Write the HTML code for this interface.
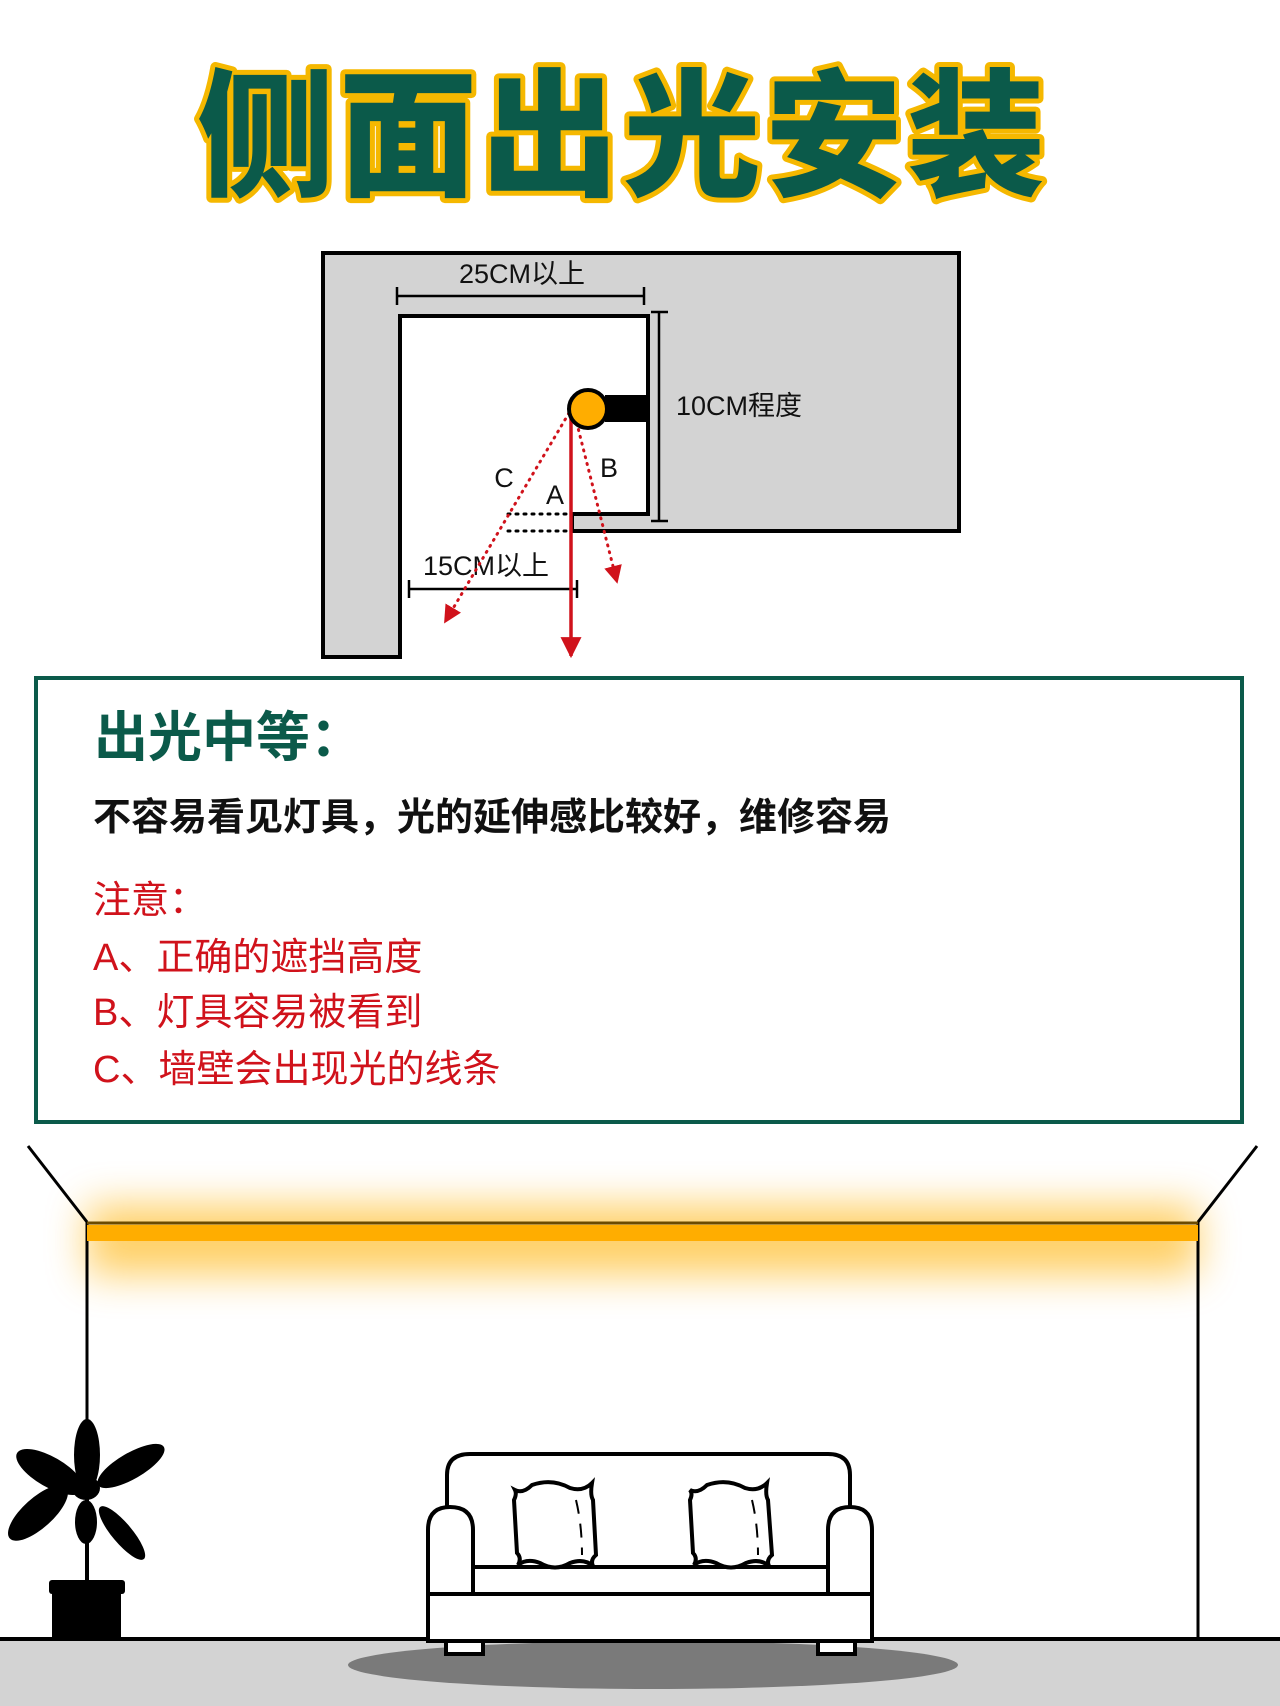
<!DOCTYPE html>
<html><head><meta charset="utf-8"><style>
html,body{margin:0;padding:0;background:#fff}
svg{display:block}
text{font-family:"Liberation Sans","Noto Sans CJK SC",sans-serif}
</style></head><body>
<svg width="1280" height="1706" viewBox="0 0 1280 1706" xmlns="http://www.w3.org/2000/svg">
<defs>
<filter id="blur" x="-20%" y="-200%" width="140%" height="500%"><feGaussianBlur stdDeviation="20"/></filter>
<marker id="ah" viewBox="0 0 10 10" refX="9" refY="5" markerWidth="6" markerHeight="6" orient="auto"><path d="M0,0 L10,5 L0,10 z" fill="#d0121b"/></marker>
</defs>
<rect width="1280" height="1706" fill="#fff"/>
<text x="623" y="125" text-anchor="middle" dominant-baseline="central" font-size="138" font-weight="900" letter-spacing="4" fill="#0b5a4a" stroke="#f5b800" stroke-width="10" stroke-linejoin="round" paint-order="stroke" style="font-family:'Noto Sans CJK SC',sans-serif">侧面出光安装</text>

<path d="M323,253 L959,253 L959,531 L572,531 L572,514 L648,514 L648,316 L400,316 L400,657 L323,657 Z" fill="#d3d3d3" stroke="#000" stroke-width="4"/>
<g stroke="#000" stroke-width="2.5">
<line x1="397" y1="296" x2="644" y2="296"/><line x1="397" y1="287" x2="397" y2="305"/><line x1="644" y1="287" x2="644" y2="305"/>
<line x1="659" y1="312" x2="659" y2="521"/><line x1="651" y1="312" x2="668" y2="312"/><line x1="651" y1="521" x2="668" y2="521"/>
<line x1="409" y1="589" x2="577" y2="589"/><line x1="409" y1="580" x2="409" y2="598"/><line x1="577" y1="580" x2="577" y2="598"/>
</g>
<g font-size="27" fill="#111">
<text x="522" y="274" text-anchor="middle" dominant-baseline="central">25CM以上</text>
<text x="676" y="406" dominant-baseline="central">10CM程度</text>
<text x="486" y="566" text-anchor="middle" dominant-baseline="central">15CM以上</text>
<text x="504" y="478" text-anchor="middle" dominant-baseline="central">C</text>
<text x="555" y="495" text-anchor="middle" dominant-baseline="central">A</text>
<text x="609" y="468" text-anchor="middle" dominant-baseline="central">B</text>
</g>
<rect x="605" y="395" width="43" height="27" fill="#000"/>
<g stroke="#000" stroke-width="3" stroke-dasharray="2 6" stroke-linecap="round">
<line x1="508" y1="514" x2="571" y2="514"/><line x1="508" y1="531" x2="571" y2="531"/>
</g>
<g stroke="#d0121b" stroke-width="3" stroke-dasharray="1 6" stroke-linecap="round" fill="none">
<line x1="569" y1="413" x2="445" y2="622" marker-end="url(#ah)"/>
<line x1="575" y1="416" x2="617" y2="582" marker-end="url(#ah)"/>
</g>
<line x1="571" y1="410" x2="571" y2="656" stroke="#d0121b" stroke-width="3.5" marker-end="url(#ah)"/>
<circle cx="588" cy="409" r="19" fill="#ffad00" stroke="#000" stroke-width="4"/>

<rect x="36" y="678" width="1206" height="444" fill="#fff" stroke="#0b5a4a" stroke-width="4"/>
<text x="94" y="738" dominant-baseline="central" font-size="54" font-weight="700" fill="#0b5a4a">出光中等：</text>
<text x="93" y="818" dominant-baseline="central" font-size="38" font-weight="700" fill="#111">不容易看见灯具，光的延伸感比较好，维修容易</text>
<g fill="#d0121b" font-size="38">
<text x="93" y="901" dominant-baseline="central">注意：</text>
<text x="93" y="958" dominant-baseline="central">A、正确的遮挡高度</text>
<text x="93" y="1013" dominant-baseline="central">B、灯具容易被看到</text>
<text x="93" y="1070" dominant-baseline="central">C、墙壁会出现光的线条</text>
</g>

<rect x="0" y="1639" width="1280" height="67" fill="#d3d3d3"/>
<line x1="0" y1="1639" x2="1280" y2="1639" stroke="#000" stroke-width="4"/>
<rect x="87" y="1205" width="1111" height="70" fill="#ffb000" opacity="0.6" filter="url(#blur)"/>
<g stroke="#000" stroke-width="3" fill="none">
<line x1="28" y1="1146" x2="87" y2="1222"/><line x1="1257" y1="1146" x2="1198" y2="1222"/>
<line x1="87" y1="1222" x2="87" y2="1639"/><line x1="1198" y1="1222" x2="1198" y2="1639"/>
</g>
<line x1="87" y1="1223" x2="1198" y2="1223" stroke="#6b4a00" stroke-width="3"/>
<rect x="87" y="1225" width="1111" height="16" fill="#ffad00"/>
<ellipse cx="653" cy="1665" rx="305" ry="24" fill="#7a7a7a"/>
<g stroke="#000" stroke-width="4" fill="#fff">
<rect x="446" y="1640" width="37" height="14"/><rect x="818" y="1640" width="37" height="14"/>
<path d="M447,1510 L447,1475 Q447,1454 470,1454 L828,1454 Q850,1454 850,1475 L850,1510"/>
<path d="M428,1594 L428,1530 Q428,1507 450,1507 Q473,1507 473,1530 L473,1594 Z"/>
<path d="M828,1594 L828,1530 Q828,1507 850,1507 Q872,1507 872,1530 L872,1594 Z"/>
<rect x="473" y="1567" width="355" height="27"/>
<rect x="428" y="1594" width="444" height="47"/>
<path d="M515,1490 Q523,1494 532,1485 Q552,1478 570,1488 Q583,1492 592,1483 Q590,1495 593,1500 L596,1555 Q590,1560 593,1566 Q584,1558 570,1563 Q555,1572 540,1563 Q527,1558 518,1565 Q522,1558 517,1553 L514,1500 Q517,1494 515,1490 Z"/>
<path d="M690,1490 Q698,1494 707,1485 Q727,1478 745,1488 Q758,1492 767,1483 Q765,1495 768,1500 L772,1555 Q766,1560 769,1566 Q760,1558 746,1563 Q731,1572 716,1563 Q703,1558 694,1565 Q698,1558 693,1553 L690,1500 Q693,1494 690,1490 Z"/>
</g>
<g stroke="#000" stroke-width="2" fill="none" stroke-dasharray="14 10">
<path d="M576,1500 Q582,1525 582,1555"/><path d="M752,1500 Q758,1525 758,1555"/>
</g>
<g fill="#000">
<line x1="87" y1="1440" x2="87" y2="1585" stroke="#000" stroke-width="4"/>
<ellipse cx="87" cy="1455" rx="13" ry="36"/>
<ellipse cx="50" cy="1472" rx="38" ry="15" transform="rotate(30 50 1472)"/>
<ellipse cx="131" cy="1466" rx="38" ry="13" transform="rotate(-30 131 1466)"/>
<ellipse cx="86" cy="1488" rx="14" ry="12"/>
<ellipse cx="38" cy="1513" rx="38" ry="15" transform="rotate(-42 38 1513)"/>
<ellipse cx="86" cy="1522" rx="11" ry="22"/>
<ellipse cx="122" cy="1533" rx="34" ry="10" transform="rotate(50 122 1533)"/>
<rect x="49" y="1580" width="76" height="14" rx="3"/>
<rect x="52" y="1590" width="69" height="50"/>
</g>
</svg>
</body></html>
